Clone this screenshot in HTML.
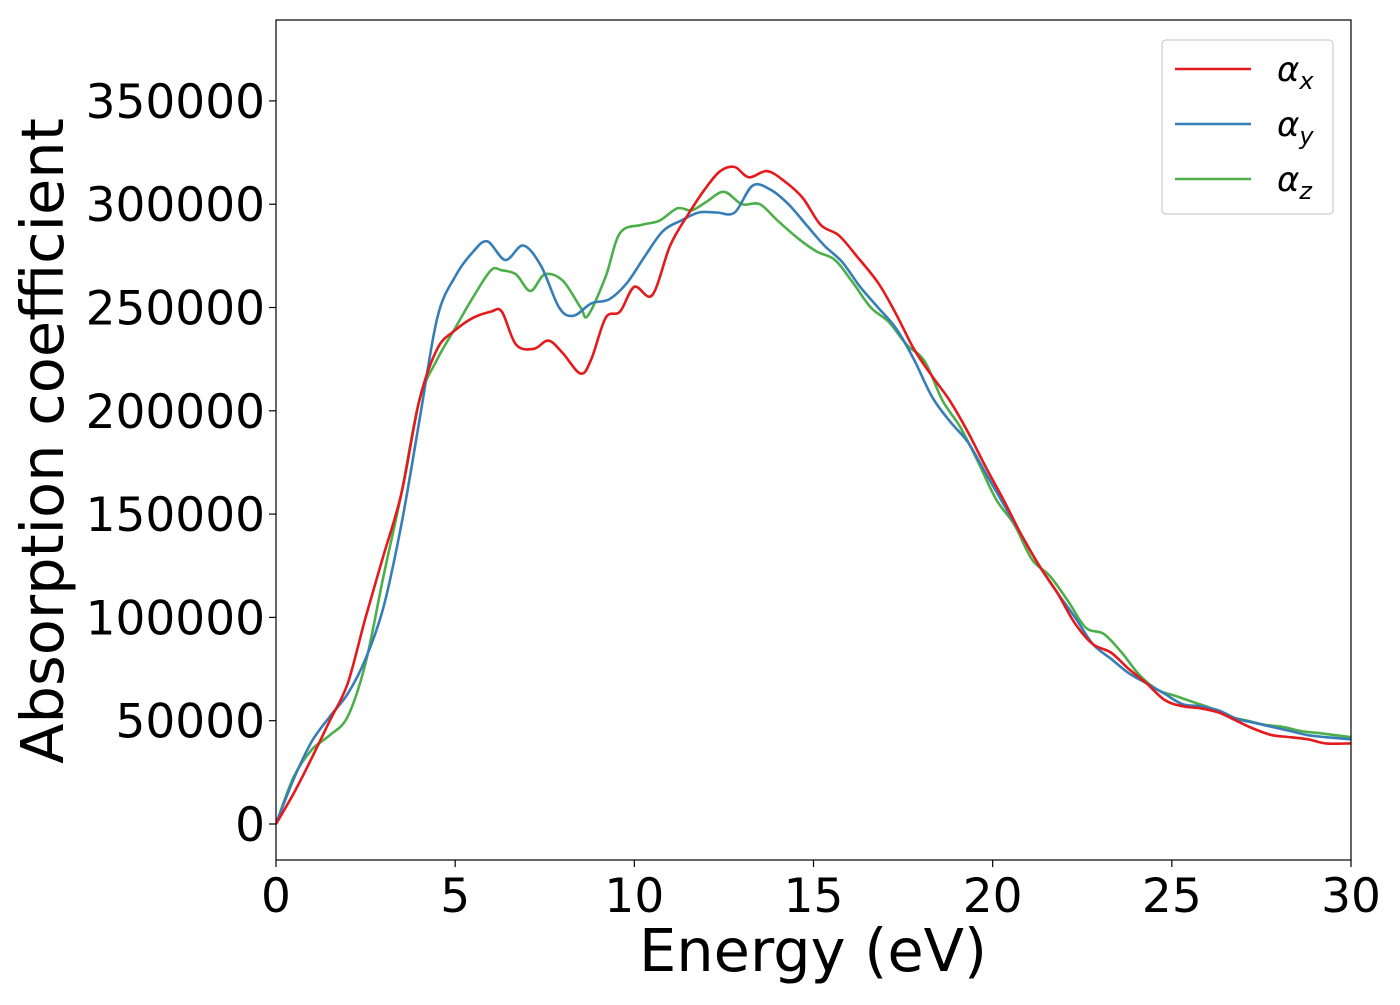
<!DOCTYPE html>
<html><head><meta charset="utf-8"><style>
body{margin:0;background:#fff;}
svg text{font-family:"DejaVu Sans","Liberation Sans",sans-serif;fill:#000;}
</style></head><body>
<svg id="chart" width="1400" height="1000" viewBox="0 0 1400 1000" xmlns="http://www.w3.org/2000/svg">
<rect x="0" y="0" width="1400" height="1000" fill="#fff"/>
<g id="series"></g>
<g id="axes"></g>
</svg>
<script>
const xTicks=[0,5,10,15,20,25,30];
const yTicks=[0,50000,100000,150000,200000,250000,300000,350000];
const seriesNames=["αx","αy","αz"];
const redE=[0,0.5,1,1.5,2,2.5,3,3.5,4,4.5,5,5.5,6,6.3,6.7,7.2,7.6,8,8.5,8.8,9.2,9.6,10,10.5,11,11.5,12,12.4,12.8,13.2,13.7,14.2,14.7,15.2,15.7,16.2,16.8,17.3,17.8,18.3,18.8,19.3,19.8,20.3,20.8,21.3,21.8,22.3,22.8,23.3,23.8,24.3,24.8,25.3,25.8,26.3,26.8,27.3,27.8,28.3,28.8,29.3,30];
const redV=[0,15000,32000,50000,68000,100000,130000,160000,205000,230000,239000,245000,248000,248000,232000,230000,234000,228000,218000,225000,245000,248000,260000,256000,280000,295000,308000,316000,318000,313000,316000,311000,303000,290000,285000,275000,262000,247000,230000,217000,205000,190000,173000,157000,140000,125000,112000,97000,87000,83000,75000,68000,60000,57000,56000,54000,50000,46000,43000,42000,41000,39000,39000];
const blueE=[0,0.5,1,1.5,2,2.5,3,3.5,4,4.5,5,5.5,5.9,6.4,6.9,7.4,7.9,8.3,8.8,9.3,9.8,10.3,10.8,11.3,11.8,12.3,12.8,13.3,13.8,14.3,14.8,15.3,15.8,16.3,16.8,17.3,17.8,18.3,18.8,19.3,19.8,20.3,20.8,21.3,21.8,22.3,22.8,23.3,23.8,24.3,24.8,25.3,25.8,26.3,26.8,27.3,27.8,28.3,28.8,29.3,30];
const blueV=[0,22000,40000,52000,63000,80000,105000,145000,195000,245000,265000,277000,282000,273000,280000,270000,250000,246000,252000,254000,262000,275000,287000,292000,296000,296000,296000,309000,307000,300000,290000,280000,272000,260000,250000,240000,225000,207000,195000,185000,170000,155000,140000,125000,112000,100000,87000,80000,73000,68000,63000,58000,57000,55000,51000,49000,47000,45000,43000,42000,41000];
const greenE=[0,0.5,1,1.5,2,2.5,3,3.5,4,4.5,5,5.5,6,6.3,6.7,7.1,7.5,8,8.5,8.7,9.2,9.6,10.2,10.7,11.2,11.6,12,12.5,13,13.5,14,14.6,15.1,15.6,16.1,16.6,17.1,17.6,18.1,18.6,19.1,19.6,20.1,20.6,21.1,21.6,22.1,22.6,23.1,23.6,24.1,24.6,25.1,25.6,26.1,26.6,27.1,27.6,28.1,28.6,29.1,30];
const greenV=[0,23000,36000,43000,52000,78000,120000,160000,205000,225000,240000,255000,268000,268000,266000,258000,266000,263000,250000,246000,265000,286000,290000,292000,298000,297000,301000,306000,300000,300000,292000,283000,277000,273000,262000,250000,243000,232000,224000,205000,192000,175000,157000,145000,128000,120000,108000,95000,92000,83000,72000,65000,62000,59000,56000,52000,50000,48000,47000,45000,44000,42000];

const X0=276,X1=1351,Y0=20,Y1=860;
function sx(e){return X0+(e-0)/(30-0)*(X1-X0);}
function sy(v){return 824-v/50000*103.3;}
const NS="http://www.w3.org/2000/svg";
function mk(tag,attrs,parent){const el=document.createElementNS(NS,tag);for(const k in attrs)el.setAttribute(k,attrs[k]);parent.appendChild(el);return el;}
function pathD(E,V){
  const p=E.map((e,i)=>[sx(e),sy(V[i])]);
  let d="M"+p[0][0].toFixed(1)+","+p[0][1].toFixed(1);
  for(let i=0;i<p.length-1;i++){
    const a=p[i-1]||p[i],b=p[i],c=p[i+1],n=p[i+2]||c;
    const c1=[b[0]+(c[0]-a[0])/6,b[1]+(c[1]-a[1])/6];
    const c2=[c[0]-(n[0]-b[0])/6,c[1]-(n[1]-b[1])/6];
    d+=" C"+c1[0].toFixed(1)+","+c1[1].toFixed(1)+" "+c2[0].toFixed(1)+","+c2[1].toFixed(1)+" "+c[0].toFixed(1)+","+c[1].toFixed(1);
  }
  return d;
}
const sg=document.getElementById("series");
const clip=mk("clipPath",{id:"clip"},sg);
mk("rect",{x:X0,y:Y0,width:X1-X0,height:Y1-Y0},clip);
const lines=[[greenE,greenV,"#4daf4a","line-alpha-z"],[blueE,blueV,"#377eb8","line-alpha-y"],[redE,redV,"#e41a1c","line-alpha-x"]];
lines.forEach(l=>{
  const el=mk("path",{d:pathD(l[0],l[1]),fill:"none",stroke:l[2],"stroke-width":2.6,"clip-path":"url(#clip)"},sg);
  
  
});
const ax=document.getElementById("axes");
const frame=mk("rect",{x:X0,y:Y0,width:X1-X0,height:Y1-Y0,fill:"none",stroke:"#000","stroke-width":1.2},ax);


xTicks.forEach(t=>{
  mk("line",{x1:sx(t),x2:sx(t),y1:Y1,y2:Y1+7,stroke:"#000","stroke-width":1.2},ax);
  const tx=mk("text",{x:sx(t),y:Y1+52,"font-size":47,"text-anchor":"middle"},ax);
  tx.textContent=t;
  
  
});
yTicks.forEach(t=>{
  mk("line",{x1:X0-7,x2:X0,y1:sy(t),y2:sy(t),stroke:"#000","stroke-width":1.2},ax);
  const tx=mk("text",{x:X0-11,y:sy(t)+17,"font-size":47,"text-anchor":"end"},ax);
  tx.textContent=t;
  
  
});
const xl=mk("text",{x:813,y:971,"font-size":59,"text-anchor":"middle"},ax);
xl.textContent="Energy (eV)";


const yl=mk("text",{x:0,y:0,"font-size":59,"text-anchor":"middle",transform:"translate(63,441) rotate(-90)"},ax);
yl.textContent="Absorption coefficient";


const lg=mk("g",{},ax);


mk("rect",{x:1162,y:40,width:171,height:174,rx:4,fill:"#fff",stroke:"#ccc","stroke-width":1.2},lg);
const cols=["#e41a1c","#377eb8","#4daf4a"],subs=["x","y","z"];
cols.forEach((c,i)=>{
  const y=69+i*55;
  const ln=mk("line",{x1:1175,x2:1251,y1:y,y2:y,stroke:c,"stroke-width":2.6},lg);
  
  
  const t=mk("text",{x:1277,y:y+12,"font-size":34,"font-style":"italic"},lg);
  t.textContent="α";
  const s=mk("tspan",{"font-size":24,dy:8},t);
  s.textContent=subs[i];
  
  
});
</script>
</body></html>
